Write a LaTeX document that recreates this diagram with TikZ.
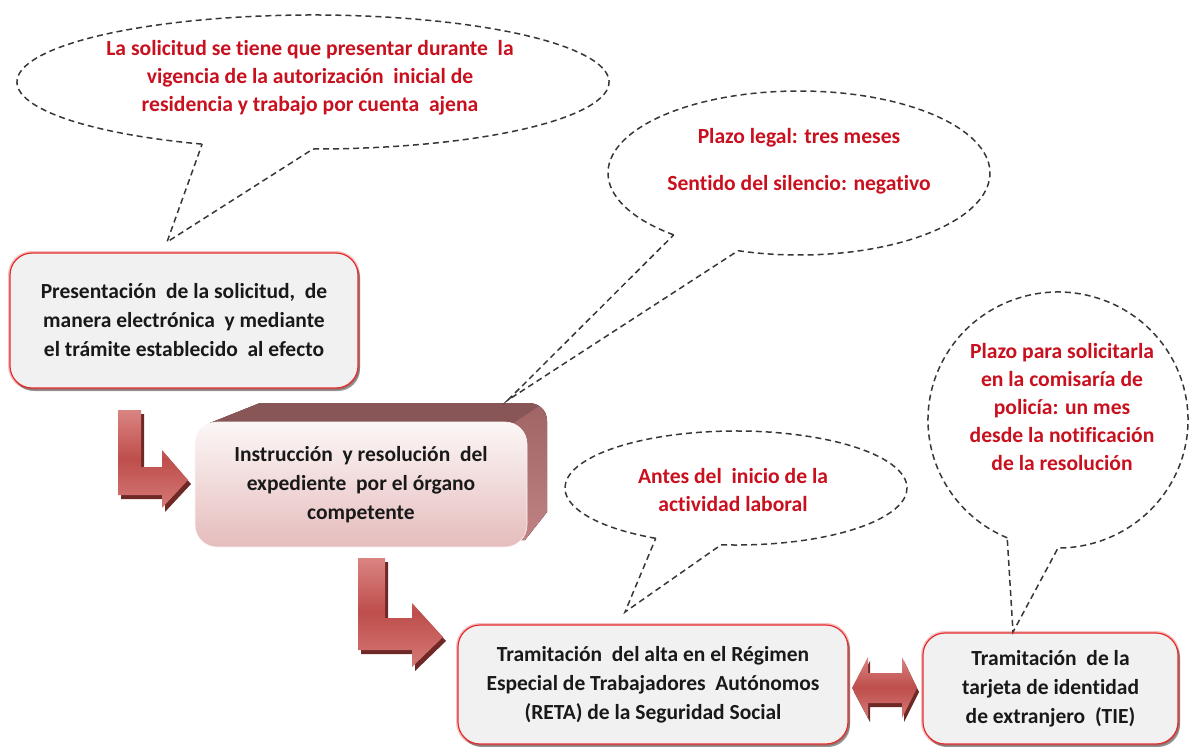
\documentclass[tikz,border=0pt]{standalone}
\usepackage{fontspec}
\setmainfont{Carlito}[Ligatures={NoCommon}]
\usetikzlibrary{shadows,calc}
\definecolor{boxred}{RGB}{228,45,45}
\definecolor{txtred}{RGB}{200,16,30}
\definecolor{dashgray}{RGB}{55,55,55}
\definecolor{boxfill}{RGB}{241,241,241}
\definecolor{arrmid}{RGB}{190,78,75}
\definecolor{arrlight}{RGB}{218,132,130}
\definecolor{arrshadow}{RGB}{110,40,38}
\definecolor{topface}{RGB}{136,86,86}
\definecolor{sidetop}{RGB}{160,100,100}
\definecolor{sidebot}{RGB}{192,130,130}
\definecolor{frontbot}{RGB}{230,188,188}
\definecolor{fronttop}{RGB}{252,247,247}
\begin{document}
\begin{tikzpicture}[x=1pt,y=-1pt,
  stepbox/.style={rectangle, rounded corners=22pt, draw=boxred, line width=1.2pt,
    fill=boxfill, preaction={draw=boxred!30, line width=4pt},
    drop shadow={shadow xshift=2pt,shadow yshift=-3pt,opacity=0.4,fill=black},
    align=center, font=\fontsize{21.5}{29}\selectfont\bfseries, text=black!90, inner sep=0pt},
  frontbox/.style={rectangle, rounded corners=22pt, top color=fronttop, bottom color=frontbot,
    draw=white!85!frontbot, line width=0.6pt,
    align=center, font=\fontsize{21.5}{29}\selectfont\bfseries, text=black!90, inner sep=0pt},
  bubble/.style={draw=dashgray, dash pattern=on 6pt off 4pt, line width=1.5pt},
  bubbletext/.style={align=center, font=\fontsize{21.6}{28}\selectfont\bfseries, text=txtred, inner sep=0pt},
  arrfill/.style={top color=arrlight, bottom color=arrlight!80!arrmid, middle color=arrmid},
  arrshad/.style={fill=arrshadow},
]
\useasboundingbox (0,0) rectangle (1189,747);

% ---------- boxes ----------
\node[stepbox, minimum width=348pt, minimum height=135pt] (b1) at (184,320.5)
  {\raisebox{3pt}{\parbox{340pt}{\centering Presentación \ de la solicitud, \ de\\manera electrónica \ y mediante\\el trámite establecido \ al efecto}}};

% 3D box: side and top faces behind the front face
\fill[top color=sidetop, bottom color=sidebot] (210,423) -- (260,403) -- (528,403)
  .. controls (539,403) and (547,410) .. (547,421) -- (547,512) -- (525,540) -- (210,540) -- cycle;
\fill[topface] (210,423) -- (260,403) -- (528,403) .. controls (532,403) and (536,404) .. (539,406) -- (512,424) -- cycle;
\node[frontbox, minimum width=332pt, minimum height=125pt] (b2) at (361,484.5)
  {\raisebox{-4pt}{\parbox{325pt}{\centering Instrucción \ y resolución \ del\\expediente \ por el órgano\\competente}}};

\node[stepbox, minimum width=390pt, minimum height=119pt] (b3) at (653,684.5)
  {\raisebox{-5pt}{\parbox{388pt}{\centering Tramitación \ del alta en el Régimen\\Especial de Trabajadores \ Autónomos\\(RETA) de la Seguridad Social}}};

\node[stepbox, minimum width=255pt, minimum height=111pt] (b4) at (1050.5,688.5)
  {\raisebox{-4pt}{\parbox{250pt}{\centering Tramitación \ de la\\tarjeta de identidad\\de extranjero \ (TIE)}}};

% ---------- arrows ----------
\path[arrshad, shift={(3,4)}] (118,410) -- (141,410) -- (141,467) -- (162,467) -- (162,450) -- (188,480) -- (162,508) -- (162,495) -- (118,495) -- cycle;
\path[arrfill] (118,410) -- (141,410) -- (141,467) -- (162,467) -- (162,450) -- (188,480) -- (162,508) -- (162,495) -- (118,495) -- cycle;

\path[arrshad, shift={(3,4)}] (358,558) -- (385,558) -- (385,618) -- (412,618) -- (412,603) -- (443,637) -- (412,667) -- (412,650) -- (358,650) -- cycle;
\path[arrfill] (358,558) -- (385,558) -- (385,618) -- (412,618) -- (412,603) -- (443,637) -- (412,667) -- (412,650) -- (358,650) -- cycle;

\path[arrshad, shift={(2,4)}] (852,688) -- (868,657) -- (868,673) -- (902,673) -- (902,657) -- (917,688) -- (902,718) -- (902,703) -- (868,703) -- (868,718) -- cycle;
\path[arrfill] (852,688) -- (868,657) -- (868,673) -- (902,673) -- (902,657) -- (917,688) -- (902,718) -- (902,703) -- (868,703) -- (868,718) -- cycle;

% ---------- callouts ----------
\coordinate (c1) at (313,82);
\coordinate (tip1) at (167,242);
\draw[bubble] ($(c1)+(112:296 and 67)$) arc[start angle=112, end angle=450, x radius=296, y radius=67] -- (tip1) -- cycle;
\node[bubbletext] (t1) at (310,78)
  {La solicitud se tiene que presentar durante \ la\\vigencia de la autorización \ inicial de\\residencia y trabajo por cuenta \ ajena};

\coordinate (c2) at (799,173);
\coordinate (tip2) at (508,400);
\draw[bubble] ($(c2)+(131:191 and 82)$) arc[start angle=131, end angle=468.6, x radius=191, y radius=82] -- (tip2) -- cycle;
\node[bubbletext] (t2) at (799,161)
  {Plazo legal: tres meses\\[19pt]Sentido del silencio: negativo};

\coordinate (c3) at (736,488);
\coordinate (tip3) at (625,612);
\draw[bubble] ($(c3)+(118:171 and 57)$) arc[start angle=118, end angle=455, x radius=171, y radius=57] -- (tip3) -- cycle;
\node[bubbletext] (t3) at (733,490)
  {Antes del \ inicio de la\\actividad laboral};

\coordinate (c4) at (1058,420);
\coordinate (tip4) at (1013,632);
\draw[bubble] ($(c4)+(113:130 and 128)$) arc[start angle=113, end angle=450, x radius=130, y radius=128] -- (tip4) -- cycle;
\node[bubbletext] (t4) at (1062,407)
  {Plazo para solicitarla\\en la comisaría de\\policía: un mes\\desde la notificación\\de la resolución};
\end{tikzpicture}
\end{document}
